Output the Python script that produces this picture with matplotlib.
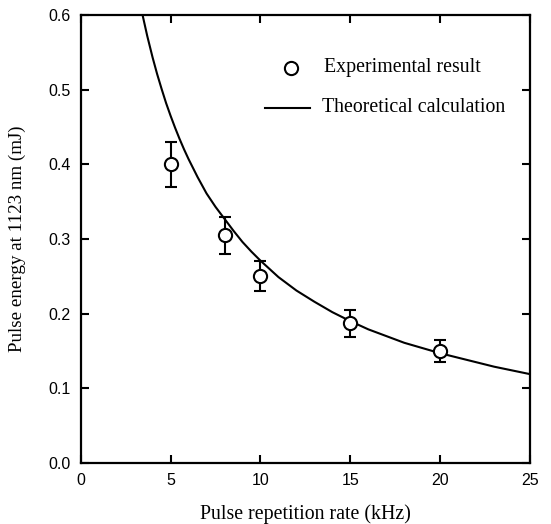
import matplotlib
matplotlib.use("Agg")
import matplotlib.pyplot as plt

# Experimental data
exp_rate = [5, 8, 10, 15, 20]
exp_energy = [0.400, 0.305, 0.250, 0.187, 0.150]
exp_err = [0.030, 0.025, 0.020, 0.018, 0.015]

# Theoretical curve
theo_rate = [3.44, 3.7, 4, 4.25, 4.5, 4.75, 5, 5.25, 5.5, 5.75, 6, 6.5, 7, 7.5,
             8, 8.5, 9, 9.5, 10, 11, 12, 13, 14, 15, 16, 17,
             18, 19, 20, 21, 22, 23, 24, 25]
theo_energy = [0.600, 0.572, 0.543, 0.521, 0.501, 0.482, 0.465, 0.449, 0.434,
               0.420, 0.407, 0.383, 0.361, 0.343, 0.327, 0.311, 0.296, 0.283,
               0.271, 0.249, 0.231, 0.216, 0.202, 0.190, 0.179, 0.170, 0.161,
               0.154, 0.147, 0.141, 0.135, 0.129, 0.124, 0.119]

x_ticks = [0, 5, 10, 15, 20, 25]
y_ticks = [0.0, 0.1, 0.2, 0.3, 0.4, 0.5, 0.6]

fig = plt.figure(figsize=(5.51, 5.24), dpi=100)
ax = fig.add_axes([0.1465, 0.1164, 0.8155, 0.855])

ax.plot(theo_rate, theo_energy, color='black', lw=1.5, clip_on=True)
ax.errorbar(exp_rate, exp_energy, yerr=exp_err, fmt='o', ms=9.5, mfc='white',
            mec='black', mew=1.5, ecolor='black', elinewidth=1.5, capsize=4,
            capthick=1.5, zorder=3)

ax.set_xlim(0, 25)
ax.set_ylim(0, 0.6)
ax.set_xticks(x_ticks)
ax.set_yticks(y_ticks)
ax.set_xticklabels([str(t) for t in x_ticks], family='Liberation Sans', fontsize=11.5)
ax.set_yticklabels([f"{t:.1f}" for t in y_ticks], family='Liberation Sans', fontsize=11.5)
ax.tick_params(direction='in', length=6, width=1.5, top=True, right=True)
ax.tick_params(axis='x', pad=7)
ax.tick_params(axis='y', pad=7)
for s in ax.spines.values():
    s.set_linewidth(1.6)

ax.set_xlabel('Pulse repetition rate (kHz)', family='Liberation Serif', fontsize=14.3, labelpad=12)
ax.set_ylabel('Pulse energy at 1123 nm (mJ)', family='Liberation Serif', fontsize=13.7, labelpad=16)

# legend (manual)
tr = ax.transAxes
def ax_xy(px, py):
    l, r, t, b = 80.7, 530, 15, 463
    return (px - l) / (r - l), (b - py) / (b - t)
mx, my = ax_xy(290.7, 68)
ax.plot([mx], [my], 'o', ms=9.5, mfc='white', mec='black', mew=1.5, transform=tr)
tx, ty = ax_xy(324, 68)
ax.text(tx, ty, 'Experimental result', family='Liberation Serif', fontsize=14.3,
        va='center', ha='left', transform=tr)
lx0, ly = ax_xy(265, 108)
lx1, _ = ax_xy(310, 108)
ax.plot([lx0, lx1], [ly, ly], color='black', lw=1.5, transform=tr)
tx2, ty2 = ax_xy(321.7, 108)
ax.text(tx2, ty2, 'Theoretical calculation', family='Liberation Serif', fontsize=14.3,
        va='center', ha='left', transform=tr)

fig.savefig('out.png', dpi=100)
